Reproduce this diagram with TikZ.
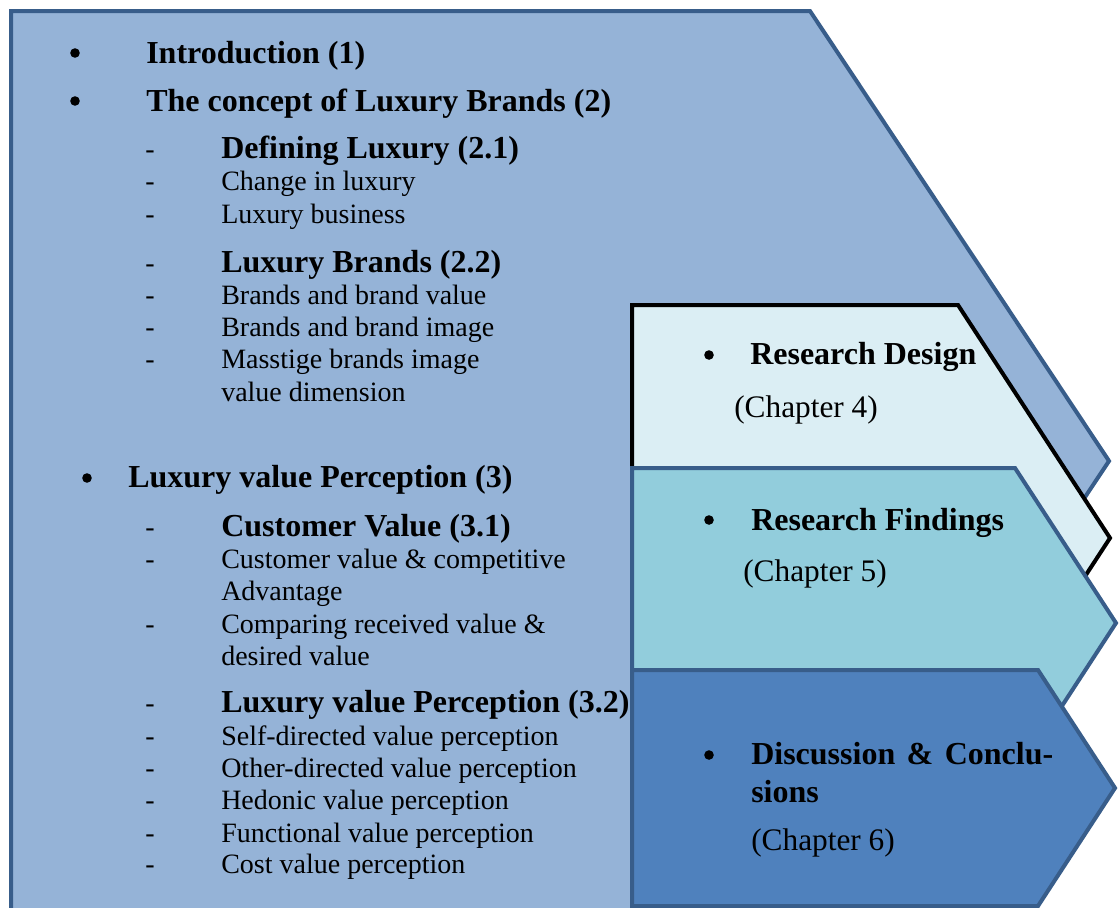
\documentclass[tikz,border=0pt]{standalone}
\usepackage{fontspec}
\setmainfont{Liberation Serif}
\definecolor{edgeblue}{HTML}{385D8A}
\definecolor{mainfill}{HTML}{95B3D7}
\definecolor{paleblue}{HTML}{DBEEF4}
\definecolor{aqua}{HTML}{92CDDC}
\definecolor{deepblue}{HTML}{4F81BD}
\tikzset{
  panel/.style={line width=3pt, line join=miter},
  head/.style={anchor=base west, inner sep=0pt, font=\fontsize{24}{28}\selectfont\bfseries},
  entry/.style={anchor=base west, inner sep=0pt, font=\fontsize{21}{24}\selectfont},
  chap/.style={anchor=base west, inner sep=0pt, font=\fontsize{23.5}{28}\selectfont},
  hyph/.style={anchor=base, inner sep=0pt, font=\fontsize{21}{24}\selectfont},
  dot/.style={circle, fill=black, inner sep=0pt, minimum size=7.2pt},
}
\begin{document}
\begin{tikzpicture}[x=0.75pt,y=-0.75pt]
\useasboundingbox (0,0) rectangle (1120,907);
\clip (0,0) rectangle (1120,907);
\fill[white] (0,0) rectangle (1120,907);

% large chevron holding the literature outline
\draw[panel, draw=edgeblue, fill=mainfill]
  (11,911) -- (11,11) -- (810,11) -- (1109,461) -- (810,911) -- cycle;

% outline text
\node[dot] (b1) at (75,53) {};
\node[head] (t1) at (146,63) {Introduction (1)};
\node[dot] (b2) at (75,101) {};
\node[head] (t2) at (146,111) {The concept of Luxury Brands (2)};

\node[hyph] (d21) at (150,158) {-};
\node[head] (t21) at (221,158) {Defining Luxury (2.1)};
\node[hyph] (d21a) at (150,190) {-};
\node[entry] (t21a) at (221,190) {Change in luxury};
\node[hyph] (d21b) at (150,223) {-};
\node[entry] (t21b) at (221,223) {Luxury business};

\node[hyph] (d22) at (150,272) {-};
\node[head] (t22) at (221,272) {Luxury Brands (2.2)};
\node[hyph] (d22a) at (150,304) {-};
\node[entry] (t22a) at (221,304) {Brands and brand value};
\node[hyph] (d22b) at (150,336) {-};
\node[entry] (t22b) at (221,336) {Brands and brand image};
\node[hyph] (d22c) at (150,368) {-};
\node[entry] (t22c) at (221,368) {Masstige brands image};
\node[entry] (t22d) at (221,401) {value dimension};

\node[dot] (b3) at (87,478) {};
\node[head] (t3) at (128,487) {Luxury value Perception (3)};

\node[hyph] (d31) at (150,536) {-};
\node[head] (t31) at (221,536) {Customer Value (3.1)};
\node[hyph] (d31a) at (150,568) {-};
\node[entry] (t31a) at (221,568) {Customer value \& competitive};
\node[entry] (t31b) at (221,600) {Advantage};
\node[hyph] (d31c) at (150,633) {-};
\node[entry] (t31c) at (221,633) {Comparing received value \&};
\node[entry] (t31d) at (221,665) {desired value};

\node[hyph] (d32) at (150,712) {-};
\node[head] (t32) at (221,712) {Luxury value Perception (3.2)};
\node[hyph] (d32a) at (150,745) {-};
\node[entry] (t32a) at (221,745) {Self-directed value perception};
\node[hyph] (d32b) at (150,777) {-};
\node[entry] (t32b) at (221,777) {Other-directed value perception};
\node[hyph] (d32c) at (150,809) {-};
\node[entry] (t32c) at (221,809) {Hedonic value perception};
\node[hyph] (d32d) at (150,842) {-};
\node[entry] (t32d) at (221,842) {Functional value perception};
\node[hyph] (d32e) at (150,873) {-};
\node[entry] (t32e) at (221,873) {Cost value perception};

% chapter 4 chevron
\draw[panel, draw=black, fill=paleblue]
  (632,771) -- (632,305) -- (958,305) -- (1110,538) -- (958,771) -- cycle;
\node[dot] (b4) at (709,355) {};
\node[head] (t4) at (750,364) {Research Design};
\node[chap] (c4) at (734,417) {(Chapter 4)};

% chapter 5 chevron
\draw[panel, draw=edgeblue, fill=aqua]
  (632,778) -- (632,468) -- (1015,468) -- (1116,623) -- (1015,778) -- cycle;
\node[dot] (b5) at (709,520) {};
\node[head] (t5) at (751,530) {Research Findings};
\node[chap] (c5) at (743,581) {(Chapter 5)};

% chapter 6 chevron
\draw[panel, draw=edgeblue, fill=deepblue]
  (632,906) -- (632,670) -- (1038,670) -- (1115,788) -- (1038,906) -- cycle;
\node[dot] (b6) at (709,755) {};
\node[head] (t6) at (751,764) {\hbox to 226.5pt{Discussion\hfil\&\hfil Conclu-}};
\node[head] (t6b) at (751,802) {sions};
\node[chap] (c6) at (751,850) {(Chapter 6)};
\end{tikzpicture}
\end{document}
